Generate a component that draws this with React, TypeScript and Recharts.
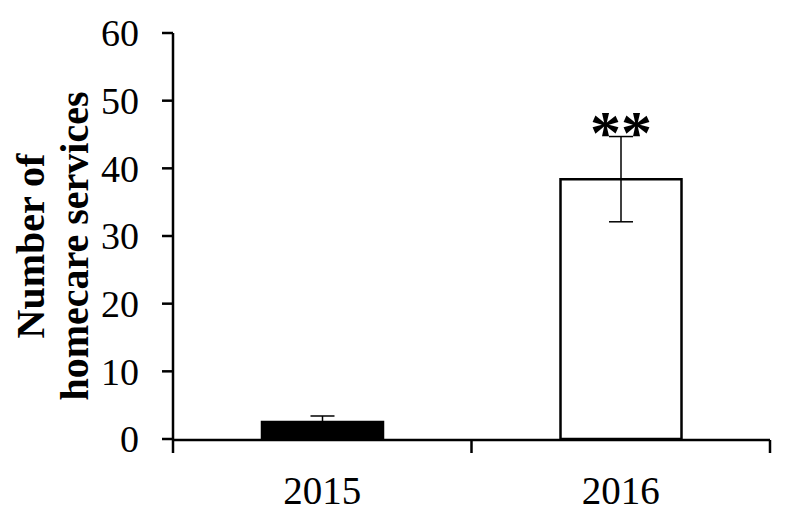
import React from 'react';
import { BarChart, Bar, XAxis, YAxis, ErrorBar, Cell, LabelList, Label } from 'recharts';

const years = ['2015', '2016'];
const services = [2.5, 38.4];
const errors = [0.9, 6.3];
const significance = ['', '**'];
const fills = ['#000000', '#ffffff'];
const yTicks = [0, 10, 20, 30, 40, 50, 60];
const boundaryTicks = [0, 1, 2];

const data = years.map((y, i) => ({ year: y, value: services[i], err: errors[i], sig: significance[i], pos: i + 0.5 }));

const FONT = '"Liberation Serif", "Times New Roman", serif';

const YLabel = (props: any) => {
  const vb = props.viewBox || { x: 105, y: 25, width: 60, height: 406 };
  const cy = vb.y + vb.height / 2 + 10;
  const x1 = vb.x - 69;
  const x2 = vb.x - 25;
  return (
    <g>
      <text x={x1} y={cy} textAnchor="middle" transform={`rotate(-90, ${x1}, ${cy})`} fontFamily={FONT} fontWeight="bold" fontSize={40} fill="#000">
        Number of
      </text>
      <text x={x2} y={cy} textAnchor="middle" transform={`rotate(-90, ${x2}, ${cy})`} fontFamily={FONT} fontWeight="bold" fontSize={40} fill="#000">
        homecare services
      </text>
    </g>
  );
};

export default function App() {
  return (
    <BarChart width={770} height={505} data={data} margin={{ top: 25, right: 8, bottom: 72, left: 105 }}>
      <XAxis
        xAxisId="num"
        dataKey="pos"
        type="number"
        domain={[0, 2]}
        ticks={boundaryTicks}
        allowDataOverflow
        tickFormatter={() => ''}
        height={1}
        tickSize={13}
        axisLine={{ stroke: '#000', strokeWidth: 2.5 }}
        tickLine={{ stroke: '#000', strokeWidth: 2.5 }}
      />
      <XAxis
        xAxisId="cat"
        dataKey="year"
        height={1}
        axisLine={false}
        tickLine={false}
        tickSize={0}
        tickMargin={37}
        tick={{ fill: '#000', fontSize: 39, fontFamily: FONT }}
      />
      <YAxis
        domain={[0, 60]}
        ticks={yTicks}
        width={60}
        tickSize={11}
        tickMargin={23}
        axisLine={{ stroke: '#000', strokeWidth: 2.5 }}
        tickLine={{ stroke: '#000', strokeWidth: 2.5 }}
        tick={{ fill: '#000', fontSize: 38, fontFamily: FONT }}
      >
        <Label content={<YLabel />} />
      </YAxis>
      <Bar dataKey="value" xAxisId="cat" barSize={121} stroke="#000" strokeWidth={2.5} isAnimationActive={false}>
        {data.map((d, i) => (
          <Cell key={d.year} fill={fills[i]} />
        ))}
        <ErrorBar dataKey="err" width={12} stroke="#000" strokeWidth={1.5} direction="y" />
        <LabelList dataKey="sig" position="top" offset={26} fill="#000" fontSize={62} fontWeight="bold" fontFamily={FONT} />
      </Bar>
    </BarChart>
  );
}
